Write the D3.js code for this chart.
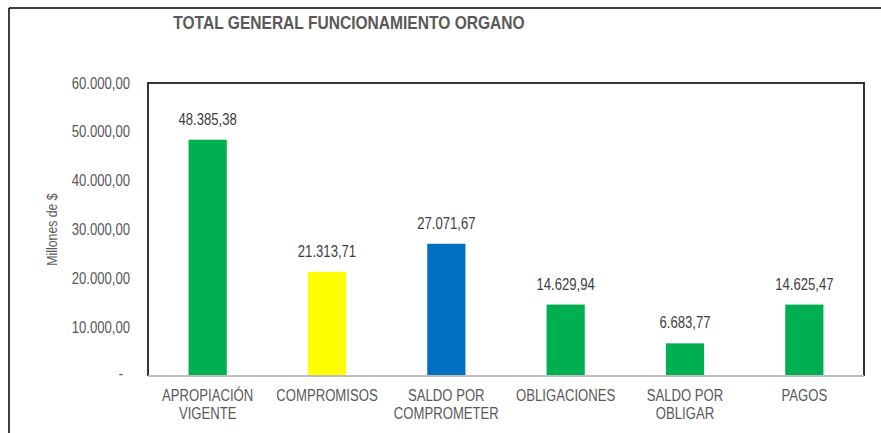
<!DOCTYPE html>
<html>
<head>
<meta charset="utf-8">
<script src="https://cdn.jsdelivr.net/npm/d3@7"></script>
<style>
  body { margin: 0; background: #fff; }
  svg text { font-family: "Liberation Sans", Arial, sans-serif; }
</style>
</head>
<body>
<svg id="chart" width="881" height="433"></svg>
<script>
// Data
const categories = ['APROPIACIÓN VIGENTE', 'COMPROMISOS', 'SALDO POR COMPROMETER', 'OBLIGACIONES', 'SALDO POR OBLIGAR', 'PAGOS'];
const categoryLines = [['APROPIACIÓN', 'VIGENTE'], ['COMPROMISOS'], ['SALDO POR', 'COMPROMETER'], ['OBLIGACIONES'], ['SALDO POR', 'OBLIGAR'], ['PAGOS']];
const values = [48385.38, 21313.71, 27071.67, 14629.94, 6683.77, 14625.47];
const barColors = ['#00B050', '#FFFF00', '#0070C0', '#00B050', '#00B050', '#00B050'];
const yTicks = [0, 10000, 20000, 30000, 40000, 50000, 60000];

const title = 'TOTAL GENERAL FUNCIONAMIENTO ORGANO';
const yTitle = 'Millones de $';

// Spanish number format: 48.385,38
const esLocale = d3.formatLocale({ decimal: ',', thousands: '.', grouping: [3], currency: ['$', ''] });
const fmt = esLocale.format(',.2f');

// No narrow font installed: squeeze text horizontally around its x anchor
const SQUEEZE = 0.82;
function narrow(sel) {
    sel.each(function () {
        let ax = +(this.getAttribute('x') || 0);
        this.setAttribute('transform', `matrix(${SQUEEZE},0,0,1,${ax * (1 - SQUEEZE)},0)`);
    });
}

let svg = d3.select('#chart');

// Outer chart frame (only top and left visible)
svg.append('line').attr('x1', 9).attr('x2', 881).attr('y1', 8).attr('y2', 8)
    .attr('stroke', '#000').attr('stroke-width', 1.5);
svg.append('line').attr('x1', 9).attr('x2', 9).attr('y1', 8).attr('y2', 433)
    .attr('stroke', '#000').attr('stroke-width', 1.5);

// Title
svg.append('text')
    .attr('x', 349).attr('y', 29)
    .attr('text-anchor', 'middle')
    .attr('font-size', 19).attr('font-weight', 'bold')
    .attr('fill', '#595959')
    .text(title)
    .call(narrow);

// Plot area
let plot = { left: 148, top: 83, right: 864, bottom: 376 };

let x = d3.scaleBand().domain(categories).range([plot.left, plot.right]).paddingInner(0.68).paddingOuter(0.34);
let y = d3.scaleLinear().domain([0, 60000]).range([plot.bottom, plot.top]);

// Plot border
svg.append('path')
    .attr('d', `M${plot.left},${plot.bottom}V${plot.top}H${plot.right}V${plot.bottom}`)
    .attr('fill', 'none').attr('stroke', '#333').attr('stroke-width', 2);

// Bars
svg.selectAll('rect.bar')
    .data(values)
    .enter()
    .append('rect')
    .attr('class', 'bar')
    .attr('x', (d, i) => x(categories[i]))
    .attr('width', x.bandwidth())
    .attr('y', (d) => y(d))
    .attr('height', (d) => y(0) - y(d))
    .attr('fill', (d, i) => barColors[i]);

// Category axis line
svg.append('line')
    .attr('x1', plot.left).attr('x2', plot.right)
    .attr('y1', y(0)).attr('y2', y(0))
    .attr('stroke', '#BFBFBF').attr('stroke-width', 2);

// Y axis labels
let yAxis = d3.axisLeft(y).tickValues(yTicks).tickSize(0).tickPadding(18)
    .tickFormat((d) => (d === 0 ? '-' : fmt(d)));
let yg = svg.append('g').attr('transform', `translate(${plot.left},0)`).call(yAxis);
yg.select('.domain').remove();
yg.selectAll('text')
    .attr('font-size', 16).attr('fill', '#595959')
    .attr('x', (d) => (d === 0 ? -25 : -18))
    .attr('dy', (d) => (d === 0 ? '0.15em' : '0.32em'))
    .call(narrow);

// Y axis title
svg.append('text')
    .attr('transform', `translate(57,${(plot.top + plot.bottom) / 2}) rotate(-90) scale(${SQUEEZE},1)`)
    .attr('text-anchor', 'middle')
    .attr('font-size', 15).attr('fill', '#595959')
    .text(yTitle);

// Category labels
svg.selectAll('text.cat')
    .data(categoryLines)
    .enter()
    .append('text')
    .attr('class', 'cat')
    .attr('x', (d, i) => x(categories[i]) + x.bandwidth() / 2)
    .attr('y', 401)
    .attr('text-anchor', 'middle')
    .attr('font-size', 16).attr('fill', '#595959')
    .call(narrow)
    .selectAll('tspan')
    .data((d) => d)
    .enter()
    .append('tspan')
    .attr('x', function () { return d3.select(this.parentNode).attr('x'); })
    .attr('dy', (d, i) => (i === 0 ? 0 : 18))
    .text((d) => d);

// Value labels
svg.selectAll('text.val')
    .data(values)
    .enter()
    .append('text')
    .attr('class', 'val')
    .attr('x', (d, i) => x(categories[i]) + x.bandwidth() / 2)
    .attr('y', (d) => y(d) - 15)
    .attr('text-anchor', 'middle')
    .attr('font-size', 16).attr('fill', '#404040')
    .text((d) => fmt(d))
    .call(narrow);
</script>
</body>
</html>
